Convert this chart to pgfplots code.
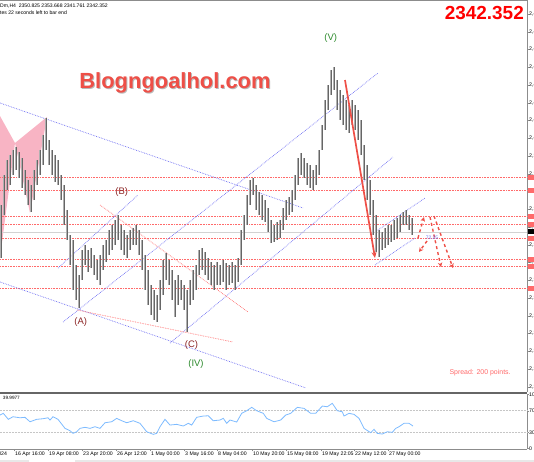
\documentclass[border=0pt]{standalone}
\usepackage{pgfplots}
\pgfplotsset{compat=1.18}
\usepackage{pgfplotstable}
\usepackage{fontspec}
\setmainfont{Liberation Sans}
\usetikzlibrary{arrows.meta}
\definecolor{barlite}{HTML}{B0B0B0}
\definecolor{bardark}{HTML}{666666}
\definecolor{chanblue}{HTML}{6E6EF2}
\definecolor{levred}{HTML}{FF6A6A}
\definecolor{pinkfill}{HTML}{F8B4C4}
\definecolor{arrred}{HTML}{EE4F47}
\definecolor{wavegreen}{HTML}{2E8B2E}
\definecolor{wavered}{HTML}{8B2424}
\definecolor{rsiblue}{HTML}{7DBBFF}
\definecolor{framegray}{HTML}{8C8C8C}
\newcommand\mtf{\fontsize{5.2}{6}\selectfont}

% H4 bars: x position, top (high) and bottom (low) in chart pixels
\pgfplotstableread{
x top bot
1 205 258
4 175 215
7 160 190
10 155 185
13 150 175
16 147 170
19 152 178
22 158 188
25 170 195
28 180 205
31 185 212
34 170 200
37 160 185
40 150 175
43 135 165
46 118 150
49 140 165
52 150 175
55 155 182
58 160 185
61 175 200
64 185 225
67 210 240
70 235 265
73 240 290
76 265 300
79 275 308
82 250 280
85 245 265
88 250 272
91 248 268
94 255 275
97 260 280
100 255 285
103 245 270
106 240 262
109 230 255
112 225 250
115 220 245
118 215 240
121 225 250
124 230 255
127 235 258
130 230 250
133 228 245
136 225 245
139 230 255
142 240 270
145 255 290
148 270 305
151 285 315
154 290 320
157 295 322
160 280 310
163 260 295
166 253 280
169 260 285
172 270 300
175 280 317
178 275 305
181 280 300
184 285 310
187 290 332
190 280 305
193 270 300
196 265 290
199 250 275
202 248 270
205 252 275
208 258 280
211 262 285
214 265 290
217 262 285
220 265 285
223 260 282
226 263 290
229 265 285
232 262 283
235 265 290
238 258 282
241 230 265
244 215 240
247 195 225
250 180 205
253 178 195
256 185 210
259 192 215
262 195 220
265 200 222
268 208 232
271 220 243
274 225 242
277 222 240
280 220 238
283 208 230
286 200 220
289 197 215
292 190 212
295 175 200
298 158 185
301 153 175
304 158 178
307 163 185
310 165 188
313 170 190
316 165 185
319 150 175
322 125 150
325 100 130
328 85 110
331 70 95
334 67 90
337 80 110
340 90 120
343 95 125
346 100 130
349 105 133
352 100 125
355 105 130
358 110 140
361 120 155
364 145 180
367 165 200
370 180 215
373 200 235
376 215 252
379 230 257
382 232 250
385 228 248
388 225 245
391 225 242
394 220 240
397 218 238
400 215 232
403 212 225
406 210 225
409 215 230
412 218 235
}\bars

\pgfplotstableread{
x v
0 62.0
3.3 65.2
8.3 54.1
13 58.9
20 57.0
25 57.8
30 49.6
36.7 54.1
43 55.2
48 57.0
50 52.8
53 58.9
58 54.1
65 37.4
70 33.0
73 28.1
76.7 31.1
80 37.4
85 39.3
90 37.4
95 40.4
100 37.4
105 47.8
111.7 49.6
116.7 55.9
121.7 51.5
126.7 47.8
133.3 51.5
140 46.7
146.7 31.1
153.3 26.3
156.7 28.1
160 40.4
165 54.1
170 43.5
176.7 44.8
183.3 41.7
188.3 46.7
191.7 43.5
196.7 57.8
203.3 60.2
208.3 60.7
213.3 51.5
220 52.8
223.3 55.9
226.7 46.7
230 52.8
236.7 49.1
241.7 65.2
246.7 70.0
251.7 76.3
256.7 70.0
263.3 65.2
266.7 55.9
274 49.6
280.7 52.8
285.7 62.0
290.7 65.2
297.3 76.3
304 74.4
310.7 65.2
315.7 65.2
322.3 78.7
327.3 77.4
332.3 83.7
337.3 70.0
342.3 68.1
344 60.2
349 65.2
354 63.3
359 55.9
364 37.4
370.7 29.3
374 35.6
377.3 28.1
382.3 26.9
387.3 31.1
392.3 30.0
395.7 37.4
399 40.4
404 46.7
409 46.7
413 41.7
}\rsi

\begin{document}
\begin{tikzpicture}
\begin{axis}[
  at={(0,0)}, anchor=north west, scale only axis,
  x=1bp, y=1bp, xmin=0, xmax=527, ymin=0, ymax=392, y dir=reverse,
  axis x line=none, axis y line*=right, axis line style={framegray,-},
  ytick={14,31.75,...,390}, tick align=outside, major tick length=2bp,
  tick style={framegray},
  /pgf/number format/assume math mode=true,
  yticklabel style={font=\mtf, anchor=west, xshift=-1bp, inner sep=1bp},
  yticklabel={\pgfmathparse{2494.5-0.655*\tick}\pgfmathprintnumber[fixed,fixed zerofill,precision=2]{\pgfmathresult}},
  clip=false,
]
% harmonic pattern
\addplot[fill=pinkfill, draw=none] coordinates {(0,116) (15,143) (0,258) (0,116)};
\addplot[fill=pinkfill, draw=none] coordinates {(15,143) (30,213) (47,117) (15,143)};
% levels
\addplot[gray!35, line width=0.6bp] coordinates {(0,232.5) (527,232.5)};
\pgfplotsinvokeforeach{177.5,190,216,224.5,238,259.5,266,288.5}{
  \addplot[levred, densely dotted, line width=0.6bp] coordinates {(0,#1) (527,#1)};
  \node[fill=levred, inner sep=0, minimum width=8bp, minimum height=5bp, anchor=west] at (axis cs:527.5,#1) {};
}
\node[fill=black, inner sep=0, minimum width=8bp, minimum height=5bp, anchor=west] at (axis cs:527.5,231) {};
% channels
\addplot[chanblue, densely dotted, line width=0.7bp] coordinates {(0,103) (303,208)};
\addplot[chanblue, densely dotted, line width=0.7bp] coordinates {(0,282) (306,388)};
\addplot[chanblue, densely dotted, line width=0.7bp] coordinates {(63,322) (378,73)};
\addplot[chanblue, densely dotted, line width=0.7bp] coordinates {(170,343) (393,157)};
\addplot[chanblue, densely dotted, line width=0.7bp] coordinates {(58,268) (138,195)};
\addplot[chanblue, densely dotted, line width=0.7bp] coordinates {(375,232) (425,198)};
\addplot[chanblue, densely dotted, line width=0.7bp] coordinates {(375,265) (415,238)};
\addplot[levred, densely dotted, line width=0.7bp] coordinates {(100,205) (248,312)};
\addplot[levred, densely dotted, line width=0.7bp] coordinates {(77,310) (233,342)};
% bars
\addplot[draw=none, mark=none, forget plot,
  error bars/.cd, y dir=plus, y explicit, error mark=none,
  error bar style={draw=barlite, solid, line width=1.8bp}]
  table[x=x, y=top, y error expr=\thisrow{bot}-\thisrow{top}] {\bars};
\addplot[draw=none, mark=none, forget plot,
  error bars/.cd, y dir=plus, y explicit, error mark=none,
  error bar style={draw=bardark, solid, line width=0.4bp}]
  table[x=x, y=top, y error expr=\thisrow{bot}-\thisrow{top}] {\bars};
% arrows
\addplot[arrred, line width=1.7bp, -{Stealth[length=6bp,width=5bp]}] coordinates {(345,80) (375,258)};
\addplot[arrred, dashed, line width=1.4bp, -{Stealth[length=4.5bp,width=4.5bp]}] coordinates {(418,238) (424,217)};
\addplot[arrred, dashed, line width=1.4bp, -{Stealth[length=4.5bp,width=4.5bp]}] coordinates {(427,241) (419,252)};
\addplot[arrred, dashed, line width=1.4bp, -{Stealth[length=4.5bp,width=4.5bp]}] coordinates {(430,217) (441,267)};
\addplot[arrred, dashed, line width=1.4bp, -{Stealth[length=4.5bp,width=4.5bp]}] coordinates {(434,216) (453,268)};
% labels
\node[font=\fontsize{9.5}{10}\selectfont, text=wavegreen] at (axis cs:330.7,38) {(V)};
\node[font=\fontsize{9.5}{10}\selectfont, text=wavegreen] at (axis cs:196,364) {(IV)};
\node[font=\fontsize{9.5}{10}\selectfont, text=wavered] at (axis cs:121.7,192.5) {(B)};
\node[font=\fontsize{9.5}{10}\selectfont, text=wavered] at (axis cs:80.7,322) {(A)};
\node[font=\fontsize{9.5}{10}\selectfont, text=wavered] at (axis cs:191.5,345) {(C)};
\node[font=\fontsize{5}{6}\selectfont, text=chanblue] at (axis cs:432,238) {72.25};
\node[font=\fontsize{22}{24}\selectfont\bfseries, text=gray!55, anchor=base] at (axis cs:176,89.5) {Blogngoalhol.com};
\node[font=\fontsize{22}{24}\selectfont\bfseries, text=arrred, anchor=base] at (axis cs:175,88.3) {Blogngoalhol.com};
\node[font=\fontsize{19}{21}\selectfont\bfseries, text=red, anchor=base east, inner sep=0] at (axis cs:524,19.3) {2342.352};
\node[font=\fontsize{7}{8}\selectfont, text=levred, anchor=base west, inner sep=0] at (axis cs:449.3,374) {Spread: 200 points.};
\node[font=\fontsize{5.1}{6}\selectfont, anchor=base west, inner sep=0] at (axis cs:0,7) {Dm,H4~~2350.825 2353.668 2341.761 2342.352};
\node[font=\fontsize{5.1}{6}\selectfont, anchor=base west, inner sep=0] at (axis cs:0,14) {tes 22 seconds left to bar end};
\end{axis}

\begin{axis}[
  at={(0,-394bp)}, anchor=north west, scale only axis,
  x=1bp, y=0.54bp, xmin=0, xmax=527, ymin=-0.9, ymax=101,
  axis x line*=bottom, axis y line*=right, axis line style={framegray,-},
  tick align=outside, major tick length=2bp, tick style={framegray},
  ytick={0,30,70,100},
  /pgf/number format/assume math mode=true,
  yticklabel style={font=\mtf, anchor=west, xshift=-1bp, inner sep=1bp},
  xtick={14,48,82,116,150,184,217,252,286,321,354,388},
  xticklabels={16 Apr 16:00,19 Apr 08:00,23 Apr 20:00,26 Apr 12:00,1 May 00:00,3 May 16:00,8 May 04:00,10 May 20:00,15 May 08:00,19 May 22:05,22 May 12:00,27 May 00:00},
  xticklabel style={font=\mtf, anchor=north west, inner sep=0.8bp, xshift=0.2bp},
  clip=false,
]
\addplot[gray!45, densely dotted, line width=0.5bp] coordinates {(0,70) (527,70)};
\addplot[gray!45, densely dotted, line width=0.5bp] coordinates {(0,30) (527,30)};
\addplot[rsiblue, line width=0.8bp] table[x=x, y=v] {\rsi};
\node[font=\fontsize{4.7}{5}\selectfont, anchor=base west, inner sep=0] at (axis cs:2.7,90) {39.9977};
\end{axis}

\draw[black!60, line width=2bp] (0,-393bp) -- (527bp,-393bp);
\draw[framegray, line width=0.8bp] (0,-0.4bp) -- (527bp,-0.4bp);
\node[font=\mtf, anchor=north east, inner sep=0.8bp] at (8bp,-451bp) {12 Apr 2024};
\fill[gray!18] (0,-459.5bp) rectangle (534bp,-462bp);
\fill[white] (29bp,-459.5bp) rectangle (75bp,-462bp);
\pgfresetboundingbox
\useasboundingbox (0,0) rectangle (534bp,-462bp);
\end{tikzpicture}
\end{document}
